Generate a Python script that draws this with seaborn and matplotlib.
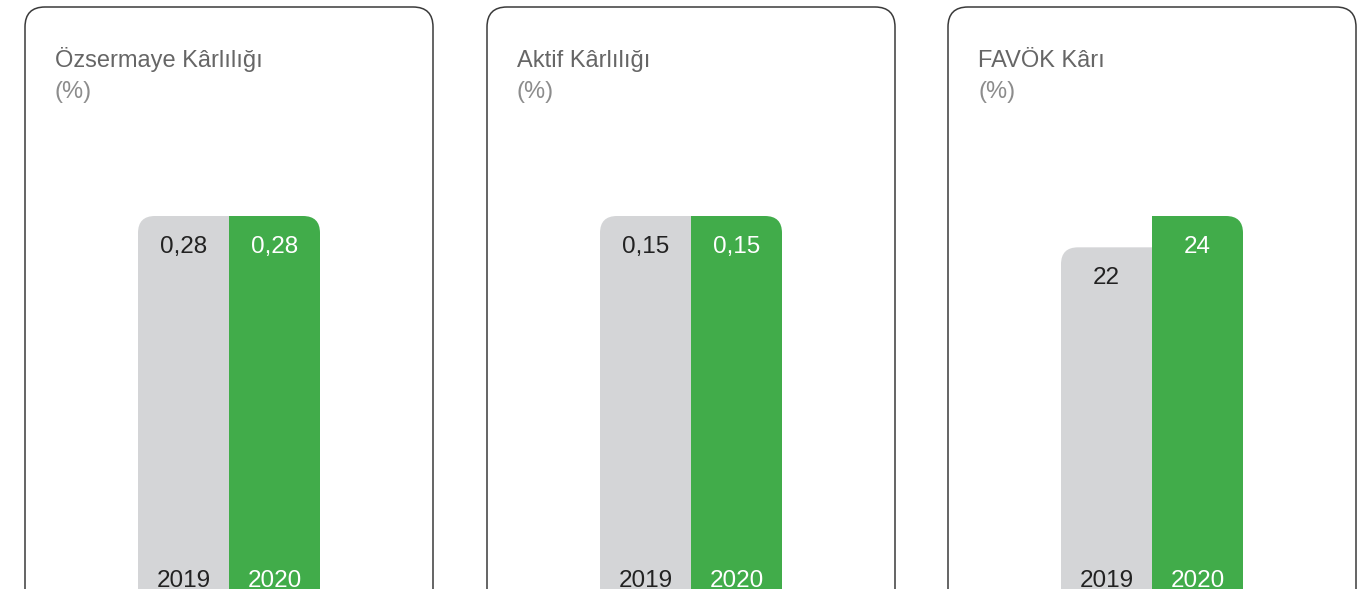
import numpy as np
import pandas as pd
import matplotlib
matplotlib.use('Agg')
import matplotlib.pyplot as plt
import seaborn as sns
from matplotlib.patches import FancyBboxPatch

# 数据
titles = ['Özsermaye Kârlılığı', 'Aktif Kârlılığı', 'FAVÖK Kârı']
units = ['(%)', '(%)', '(%)']
years = ['2019', '2020']
values_roe = [0.28, 0.28]
values_roa = [0.15, 0.15]
values_ebitda = [22, 24]
labels_roe = ['0,28', '0,28']
labels_roa = ['0,15', '0,15']
labels_ebitda = ['22', '24']

all_values = [values_roe, values_roa, values_ebitda]
all_labels = [labels_roe, labels_roa, labels_ebitda]

grey = '#D4D5D7'
green = '#41AC4A'

sns.set_theme(style='white')
plt.rcParams['font.family'] = ['Liberation Sans', 'DejaVu Sans']

W, H = 1369, 589
fig = plt.figure(figsize=(W / 100, H / 100), dpi=100)

# 背景轴：像素坐标
bg = fig.add_axes([0, 0, 1, 1])
bg.set_xlim(0, W)
bg.set_ylim(H, 0)
bg.axis('off')

panel_left = [25, 487, 948]
panel_w = 408
bar_off = 113
bar_w = 91
bar_top = 216
base_y = 592

for i in range(3):
    x0 = panel_left[i]
    # 面板边框
    box = FancyBboxPatch((x0, 7), panel_w, 700, boxstyle='round,pad=0,rounding_size=20',
                         fc='white', ec='#3a3a3a', lw=1.1, transform=bg.transData)
    bg.add_patch(box)
    bg.text(x0 + 30, 67, titles[i], fontsize=17, color='#666666', va='baseline', ha='left')
    bg.text(x0 + 30, 98, units[i], fontsize=17, color='#8c8c8c', va='baseline', ha='left')

    # 柱状图轴
    ax_x = (x0 + bar_off) / W
    ax_w = 2 * bar_w / W
    ax_b = (H - base_y) / H
    ax_h = (base_y - bar_top) / H
    ax = fig.add_axes([ax_x, ax_b, ax_w, ax_h])
    df = pd.DataFrame({'year': years, 'value': all_values[i]})
    sns.barplot(data=df, x='year', y='value', hue='year', palette=[grey, green],
                width=1.0, saturation=1, legend=False, linewidth=0, ax=ax)
    ax.set_xlim(-0.5, 1.5)
    ax.set_ylim(0, max(all_values[i]))
    ax.axis('off')
    ax.patch.set_alpha(0)

    # 圆角（灰色左上角、绿色右上角）
    for j, p in enumerate(ax.patches):
        (dx0, dy0), (dx1, dy1) = ax.transData.transform([(p.get_x(), 0),
                                                         (p.get_x() + p.get_width(), p.get_height())])
        ptop = H - dy1
        r = 17
        if j == 0:
            clip = FancyBboxPatch((dx0, ptop), (dx1 - dx0) + 2 * r, 800,
                                  boxstyle='round,pad=0,rounding_size=%d' % r, transform=bg.transData)
        else:
            clip = FancyBboxPatch((dx0 - 2 * r, ptop), (dx1 - dx0) + 2 * r, 800,
                                  boxstyle='round,pad=0,rounding_size=%d' % r, transform=bg.transData)
        p.set_clip_path(clip)

        txt_color = '#222222' if j == 0 else 'white'
        ax.annotate(all_labels[i][j], (j, p.get_height()), xytext=(0, -31),
                    textcoords='offset pixels', ha='center', va='center',
                    fontsize=17.5, color=txt_color, annotation_clip=False)
        ax.annotate(years[j], (j, 0), xytext=(0, 11),
                    textcoords='offset pixels', ha='center', va='center',
                    fontsize=17.5, color=txt_color, annotation_clip=False)

fig.savefig('out.png', dpi=100)
